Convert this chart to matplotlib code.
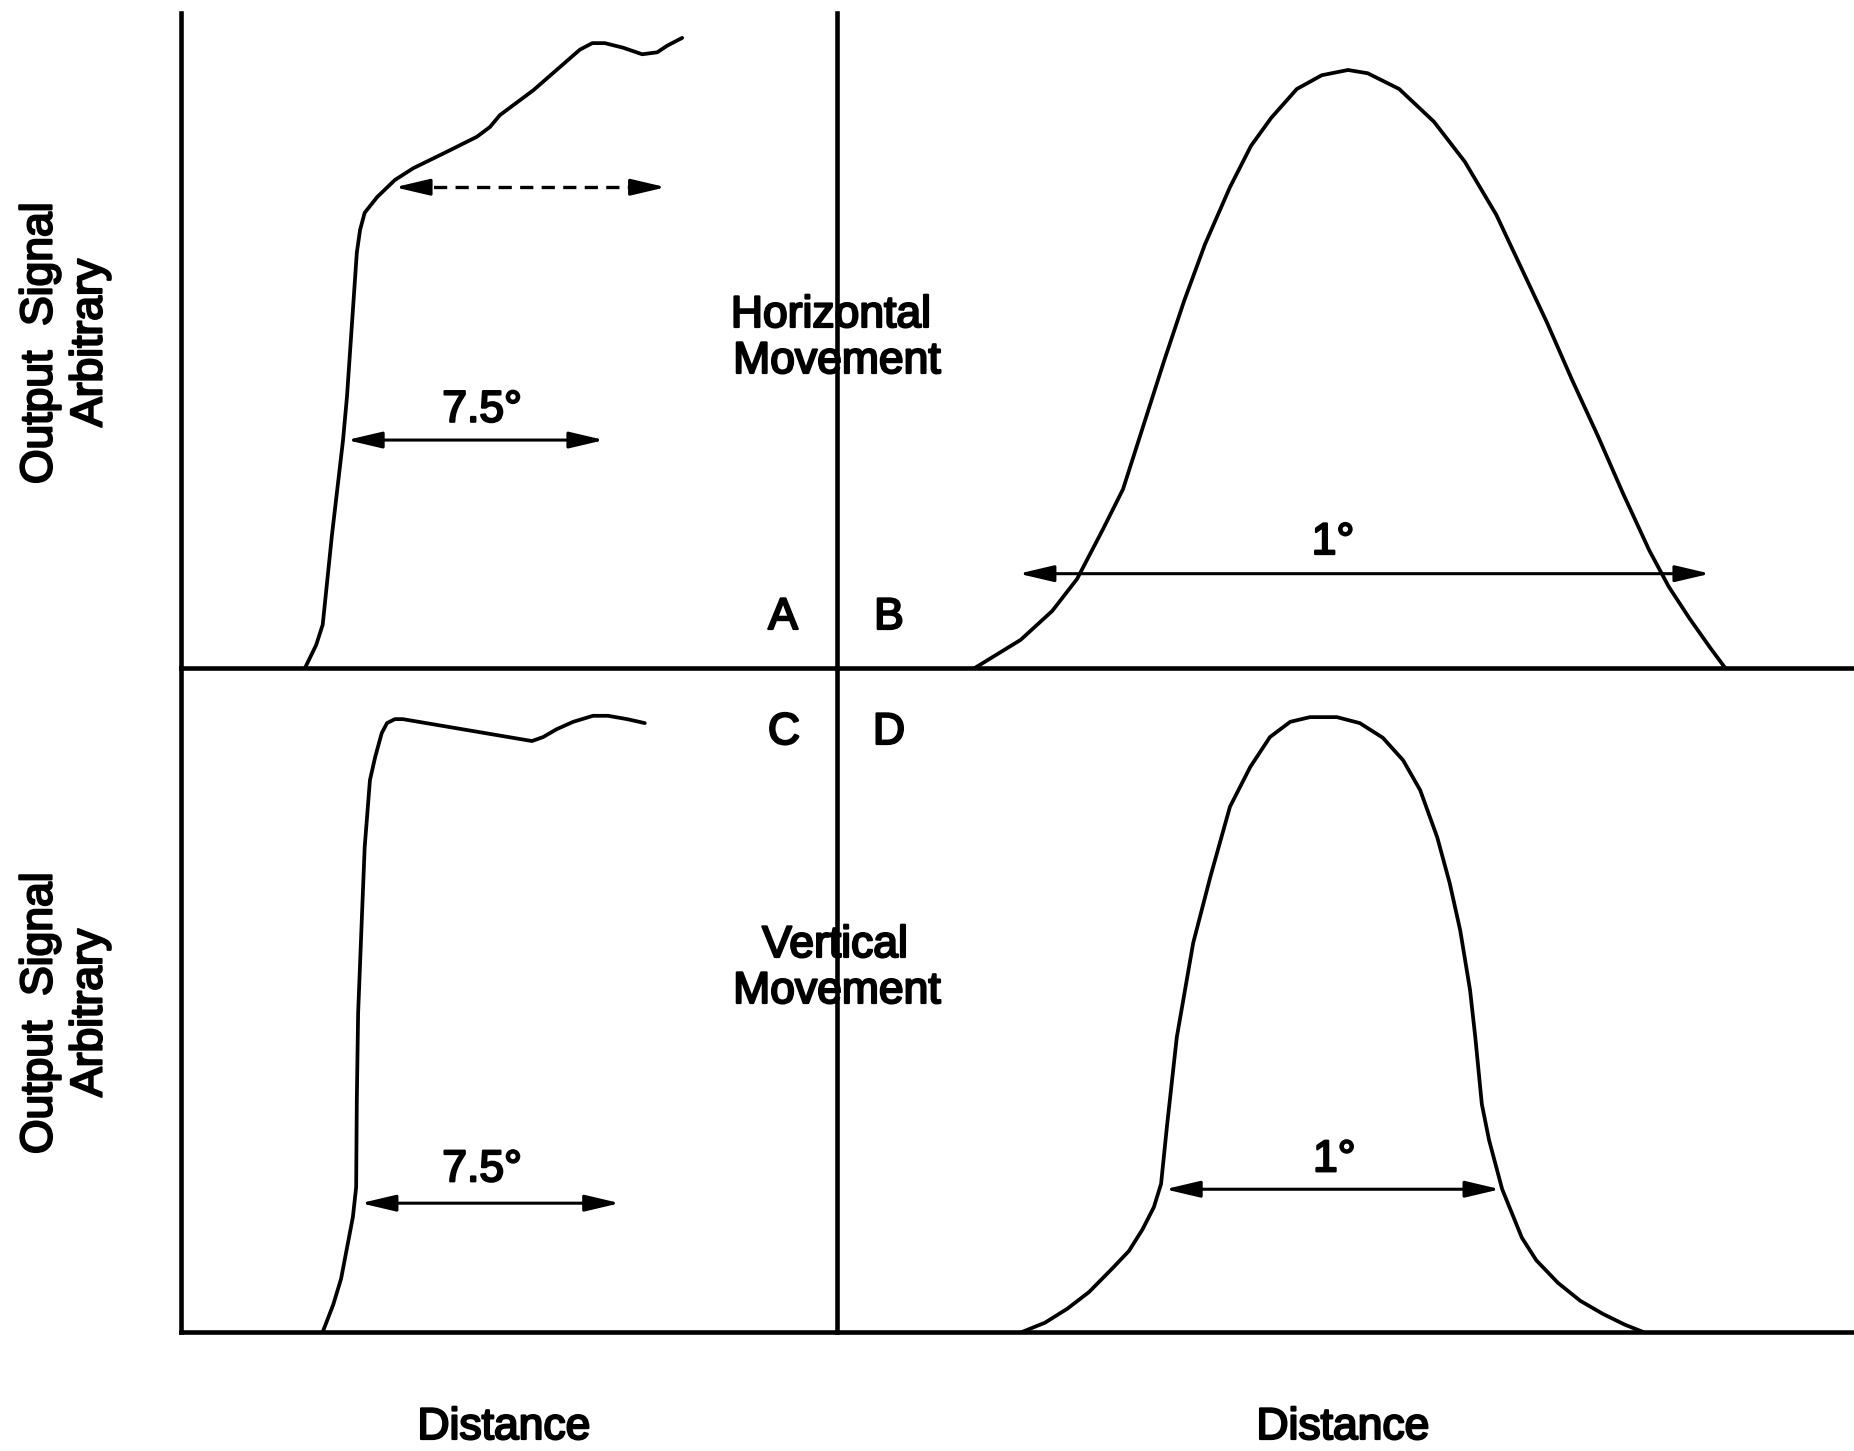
import matplotlib
matplotlib.use("Agg")
import matplotlib.pyplot as plt
import matplotlib.patheffects as pe

plt.rcParams["font.family"] = ["Liberation Sans", "DejaVu Sans"]
plt.rcParams["lines.scale_dashes"] = False

# ---- traced responses (distance units, output signal in % of panel height) ----
# A: horizontal movement, edge response
a_x = [18.9, 20.6, 21.6, 23.0, 24.7, 25.3, 26.8, 27.3, 28.0, 29.9, 32.6, 35.4, 40.5,
       45.1, 47.1, 48.6, 53.7, 60.8, 62.7, 64.6, 67.4, 70.3, 72.6, 74.1, 76.4]
a_y = [0.0, 3.5, 6.6, 20.2, 34.8, 41.4, 63.4, 66.9, 69.5, 71.9, 74.5, 76.3, 78.8,
       81.1, 82.6, 84.4, 88.2, 94.4, 95.4, 95.4, 94.7, 93.7, 94.0, 95.0, 96.2]

# B: horizontal movement, line response
b_x = [21.0, 28.0, 32.8, 36.6, 40.5, 43.6, 46.0, 49.8, 52.9, 56.1, 59.9, 63.1, 66.2,
       70.1, 73.9, 77.9, 80.9, 85.7, 91.0, 95.7, 100.5, 104.3, 108.2, 112.0, 116.0,
       119.8, 123.8, 126.8, 130.0, 133.1, 135.4]
b_y = [0.0, 4.3, 8.7, 13.6, 21.1, 27.3, 34.8, 46.7, 56.0, 64.7, 73.4, 79.7, 84.0,
       88.4, 90.5, 91.3, 90.8, 88.4, 83.4, 77.3, 69.2, 61.1, 52.8, 44.1, 35.4,
       26.7, 18.0, 12.4, 7.5, 3.1, 0.0]

# C: vertical movement, edge response
c_x = [21.6, 23.2, 24.4, 26.2, 26.7, 26.8, 27.0, 27.6, 28.0, 28.8, 29.6, 30.6, 31.4,
       32.6, 33.8, 51.7, 53.5, 55.2, 57.3, 59.8, 62.8, 65.1, 68.0, 70.7]
c_y = [0.0, 4.1, 8.0, 17.3, 21.8, 34.9, 48.0, 63.1, 73.0, 83.1, 86.6, 90.2, 91.7,
       92.3, 92.3, 89.3, 89.0, 89.6, 90.8, 91.9, 92.8, 92.8, 92.3, 91.7]

# D: vertical movement, line response
d_x = [28.2, 31.7, 35.1, 38.4, 41.9, 44.5, 46.6, 48.3, 49.4, 50.3, 51.8, 54.3, 56.9,
       59.9, 63.0, 66.0, 69.1, 72.1, 76.2, 79.7, 83.2, 86.3, 88.9, 91.5, 93.4, 95.0,
       96.5, 97.3, 98.3, 99.4, 101.4, 104.4, 106.6, 109.9, 113.3, 116.8, 120.1, 122.9]
d_y = [0.0, 1.4, 3.5, 6.0, 9.5, 12.2, 15.5, 18.8, 22.3, 31.0, 44.4, 58.6, 68.5,
       79.1, 85.1, 89.6, 91.9, 92.6, 92.6, 91.7, 89.5, 86.1, 81.6, 74.5, 67.6, 60.5,
       51.5, 44.4, 34.3, 28.9, 21.5, 14.2, 10.8, 7.4, 4.7, 2.7, 1.1, 0.0]

# width markers: (x_start, x_end, y)
a_span = (25.3, 64.5, 34.8)
a_dashed_span = (32.6, 73.9, 73.4)
b_span = (27.7, 133.1, 14.4)
c_span = (27.4, 66.9, 19.4)
d_span = (50.0, 101.1, 21.5)

# width labels: (text, x, baseline y)
a_label = ("7.5°", 45.9, 37.6)
b_label = ("1°", 75.6, 17.4)
c_label = ("7.5°", 45.9, 22.7)
d_label = ("1°", 75.8, 24.2)

panel_letters = ["A", "B", "C", "D"]

W, H = 1854, 1451
fig = plt.figure(figsize=(W / 100, H / 100), dpi=100)

x_left, x_mid, x_right = 181, 837, W
y_top, y_mid, y_bot = 13, 668, 1332


def frac_box(x0, x1, ytop, ybot):
    return [x0 / W, 1 - ybot / H, (x1 - x0) / W, (ybot - ytop) / H]


ax_a = fig.add_axes(frac_box(x_left, x_mid, y_top, y_mid))
ax_b = fig.add_axes(frac_box(x_mid, x_right, y_top, y_mid))
ax_c = fig.add_axes(frac_box(x_left, x_mid, y_mid, y_bot))
ax_d = fig.add_axes(frac_box(x_mid, x_right, y_mid, y_bot))

px_per_unit_x = 6.56
for ax in (ax_a, ax_b, ax_c, ax_d):
    pos = ax.get_position()
    ax.set_xlim(0, pos.width * W / px_per_unit_x)
    ax.set_ylim(0, 100)
    ax.set_xticks([])
    ax.set_yticks([])
    ax.patch.set_alpha(0)
    for s in ax.spines.values():
        s.set_visible(False)
        s.set_linewidth(3.3)
        s.set_capstyle("projecting")

for ax in (ax_a, ax_c):
    ax.spines["left"].set_visible(True)
    ax.spines["right"].set_visible(True)
    ax.spines["bottom"].set_visible(True)
for ax in (ax_b, ax_d):
    ax.spines["bottom"].set_visible(True)

curve_kw = dict(color="black", lw=2.7, solid_joinstyle="round", solid_capstyle="round",
                clip_on=False)
ax_a.plot(a_x, a_y, **curve_kw)
ax_b.plot(b_x, b_y, **curve_kw)
ax_c.plot(c_x, c_y, **curve_kw)
ax_d.plot(d_x, d_y, **curve_kw)

arrow_props = dict(arrowstyle="<|-|>,head_length=0.85,head_width=0.2",
                   color="black", lw=2.2, shrinkA=0, shrinkB=0, mutation_scale=25)


def span_arrow(ax, span):
    x0, x1, y = span
    ax.annotate("", xy=(x1, y), xytext=(x0, y), arrowprops=arrow_props,
                annotation_clip=False)


for ax, span in [(ax_a, a_span), (ax_b, b_span), (ax_c, c_span), (ax_d, d_span)]:
    span_arrow(ax, span)

# dashed double arrow: dashed shaft with solid heads
x0, x1, y = a_dashed_span
head = 3.2
ax_a.plot([x0 + head * 0.8, x1 - head * 0.8], [y, y], color="black", lw=2.4,
          dashes=(9.5, 6.0), solid_capstyle="butt")
head_props = dict(arrowstyle="-|>,head_length=0.85,head_width=0.2", color="black",
                  lw=2.2, shrinkA=0, shrinkB=0, mutation_scale=25)
ax_a.annotate("", xy=(x1, y), xytext=(x1 - head, y), arrowprops=head_props)
ax_a.annotate("", xy=(x0, y), xytext=(x0 + head, y), arrowprops=head_props)

txt_fx = [pe.withStroke(linewidth=1.6, foreground="black")]
fs = 32

for ax, (t, lx, ly) in [(ax_a, a_label), (ax_b, b_label), (ax_c, c_label), (ax_d, d_label)]:
    ax.text(lx, ly, t, ha="center", va="baseline", fontsize=fs, path_effects=txt_fx)


def ftext(x, y, s, **kw):
    kw.setdefault("fontsize", fs)
    kw.setdefault("path_effects", txt_fx)
    fig.text(x / W, 1 - y / H, s, **kw)


# panel letters
ftext(783, 629, panel_letters[0], ha="center", va="baseline")
ftext(889, 629, panel_letters[1], ha="center", va="baseline")
ftext(784, 744, panel_letters[2], ha="center", va="baseline")
ftext(889, 744, panel_letters[3], ha="center", va="baseline")

# movement captions
ftext(831, 327, "Horizontal", ha="center", va="baseline")
ftext(837, 373, "Movement", ha="center", va="baseline")
ftext(835, 957, "Vertical", ha="center", va="baseline")
ftext(837, 1003, "Movement", ha="center", va="baseline")

# axis titles
for yc in (343, 1013):
    ftext(40, yc, "Output  Signal", ha="center", va="center", rotation=90)
    ftext(90, yc, "Arbitrary", ha="center", va="center", rotation=90)

ftext(504, 1439, "Distance", ha="center", va="baseline")
ftext(1343, 1439, "Distance", ha="center", va="baseline")

fig.savefig("out.png", dpi=100, facecolor="white")
